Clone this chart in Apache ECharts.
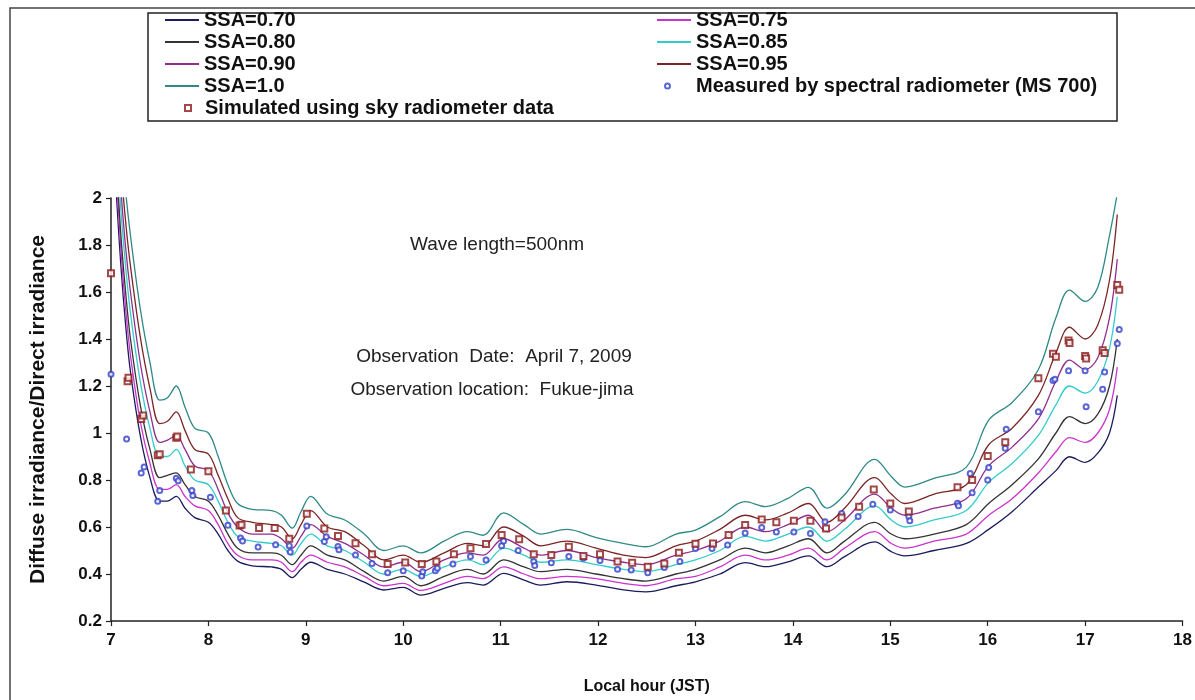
<!DOCTYPE html>
<html>
<head>
<meta charset="utf-8">
<script src="https://cdn.jsdelivr.net/npm/echarts@6/dist/echarts.min.js"></script>
<style>
html,body{margin:0;padding:0;background:#fff;}
#chart{width:1195px;height:700px;}
</style>
</head>
<body>
<div id="chart"></div>
<script>
// Local hour (JST) sample points of the model curves
const hours = [7.05,7.10,7.15,7.20,7.30,7.40,7.50,7.58,7.67,7.76,7.86,8.00,8.10,8.20,8.30,8.45,8.65,8.75,8.86,8.95,9.05,9.22,9.40,9.60,9.80,10.00,10.18,10.42,10.66,10.82,11.03,11.24,11.41,11.68,11.98,12.26,12.49,12.80,13.00,13.25,13.51,13.72,13.95,14.16,14.35,14.53,14.84,15.01,15.15,15.45,15.78,16.01,16.25,16.52,16.70,16.84,17.00,17.13,17.25,17.33];

const ssa070 = [2.05,1.72,1.46,1.26,0.99,0.81,0.71,0.71,0.73,0.68,0.64,0.62,0.57,0.50,0.455,0.435,0.43,0.42,0.385,0.42,0.45,0.42,0.40,0.365,0.332,0.343,0.31,0.339,0.363,0.353,0.403,0.374,0.353,0.367,0.353,0.332,0.324,0.35,0.367,0.40,0.448,0.431,0.452,0.477,0.431,0.474,0.537,0.495,0.477,0.50,0.53,0.59,0.665,0.77,0.84,0.899,0.875,0.914,1.00,1.16];
const ssa075 = [2.13,1.79,1.53,1.33,1.05,0.87,0.76,0.76,0.78,0.73,0.69,0.67,0.61,0.53,0.48,0.46,0.46,0.45,0.41,0.45,0.48,0.45,0.43,0.39,0.35,0.36,0.33,0.36,0.39,0.38,0.43,0.40,0.38,0.39,0.38,0.36,0.35,0.38,0.39,0.43,0.48,0.46,0.48,0.51,0.46,0.51,0.58,0.53,0.51,0.54,0.57,0.65,0.72,0.83,0.92,0.98,0.96,1.00,1.10,1.28];
const ssa080 = [2.21,1.85,1.60,1.40,1.12,0.93,0.81,0.82,0.83,0.78,0.73,0.71,0.65,0.57,0.51,0.49,0.49,0.48,0.44,0.48,0.52,0.48,0.46,0.41,0.37,0.39,0.35,0.39,0.42,0.40,0.46,0.43,0.41,0.42,0.40,0.38,0.37,0.40,0.42,0.46,0.51,0.49,0.52,0.55,0.49,0.54,0.62,0.57,0.55,0.57,0.61,0.70,0.78,0.89,1.00,1.07,1.04,1.08,1.20,1.40];
const ssa085 = [2.33,1.96,1.71,1.51,1.22,1.02,0.90,0.90,0.93,0.86,0.80,0.78,0.71,0.62,0.56,0.54,0.53,0.52,0.48,0.53,0.57,0.52,0.50,0.45,0.40,0.42,0.39,0.43,0.46,0.44,0.51,0.48,0.45,0.46,0.44,0.42,0.41,0.44,0.46,0.50,0.56,0.54,0.57,0.60,0.54,0.59,0.69,0.63,0.60,0.63,0.67,0.79,0.87,0.99,1.12,1.20,1.17,1.22,1.36,1.58];
const ssa090 = [2.43,2.05,1.79,1.60,1.30,1.09,0.96,0.97,0.99,0.93,0.86,0.84,0.76,0.66,0.60,0.57,0.57,0.55,0.51,0.56,0.61,0.56,0.53,0.48,0.43,0.45,0.41,0.46,0.49,0.48,0.55,0.51,0.48,0.50,0.47,0.45,0.44,0.48,0.50,0.54,0.60,0.58,0.61,0.65,0.58,0.63,0.74,0.68,0.65,0.68,0.72,0.86,0.94,1.06,1.22,1.31,1.27,1.32,1.49,1.74];
const ssa095 = [2.55,2.15,1.90,1.71,1.41,1.19,1.04,1.05,1.09,1.01,0.93,0.91,0.82,0.72,0.64,0.62,0.61,0.60,0.55,0.61,0.67,0.60,0.58,0.52,0.46,0.48,0.45,0.49,0.53,0.52,0.60,0.56,0.52,0.54,0.51,0.48,0.47,0.52,0.54,0.59,0.65,0.63,0.66,0.70,0.62,0.68,0.81,0.74,0.70,0.74,0.78,0.95,1.02,1.16,1.34,1.45,1.40,1.46,1.65,1.93];
const ssa100 = [2.70,2.28,2.03,1.84,1.53,1.30,1.14,1.15,1.20,1.11,1.02,1.00,0.90,0.78,0.70,0.675,0.67,0.65,0.595,0.665,0.73,0.655,0.63,0.57,0.50,0.52,0.49,0.54,0.58,0.565,0.66,0.61,0.57,0.59,0.555,0.53,0.516,0.57,0.587,0.644,0.708,0.687,0.722,0.769,0.68,0.737,0.888,0.815,0.77,0.807,0.855,1.055,1.13,1.27,1.49,1.608,1.56,1.62,1.84,2.02];

// Simulated using sky radiometer data (hour, value)
const simHours = [7.0,7.17,7.18,7.31,7.33,7.48,7.5,7.67,7.68,7.82,8.0,8.18,8.32,8.34,8.52,8.68,8.83,9.01,9.19,9.33,9.51,9.68,9.84,10.02,10.19,10.34,10.52,10.69,10.85,11.01,11.19,11.34,11.52,11.70,11.85,12.02,12.20,12.35,12.51,12.68,12.83,13.0,13.18,13.34,13.51,13.68,13.83,14.01,14.18,14.34,14.50,14.68,14.83,15.0,15.19,15.69,15.84,16.0,16.18,16.52,16.67,16.70,16.83,16.84,17.0,17.01,17.18,17.2,17.33,17.35];
const simValues = [1.68,1.22,1.235,1.06,1.075,0.905,0.91,0.98,0.985,0.845,0.837,0.67,0.606,0.61,0.596,0.596,0.55,0.656,0.594,0.562,0.531,0.484,0.443,0.449,0.443,0.453,0.484,0.51,0.528,0.566,0.548,0.484,0.481,0.516,0.477,0.484,0.453,0.448,0.431,0.445,0.49,0.529,0.53,0.566,0.608,0.632,0.62,0.627,0.627,0.594,0.64,0.686,0.76,0.70,0.666,0.769,0.80,0.902,0.961,1.233,1.337,1.325,1.394,1.383,1.328,1.317,1.352,1.34,1.63,1.61];

// Measured by spectral radiometer (MS 700) (hour, value)
const measHours = [7.0,7.16,7.31,7.34,7.48,7.5,7.67,7.69,7.83,7.84,8.02,8.2,8.33,8.35,8.51,8.69,8.83,8.84,9.01,9.19,9.21,9.33,9.34,9.51,9.68,9.84,10.0,10.19,10.2,10.33,10.35,10.51,10.69,10.85,11.01,11.03,11.18,11.34,11.35,11.52,11.70,11.85,12.02,12.20,12.34,12.51,12.68,12.84,13.0,13.17,13.33,13.51,13.68,13.83,14.01,14.18,14.33,14.5,14.67,14.82,15.0,15.19,15.2,15.69,15.7,15.82,15.84,16.0,16.01,16.18,16.19,16.52,16.67,16.69,16.83,17.0,17.01,17.18,17.2,17.33,17.35];
const measValues = [1.25,0.975,0.83,0.855,0.71,0.755,0.807,0.797,0.755,0.734,0.727,0.607,0.553,0.54,0.515,0.525,0.52,0.494,0.604,0.538,0.559,0.517,0.503,0.481,0.445,0.405,0.414,0.392,0.41,0.414,0.424,0.443,0.474,0.46,0.52,0.54,0.5,0.453,0.436,0.448,0.474,0.467,0.457,0.42,0.417,0.405,0.428,0.453,0.509,0.509,0.523,0.575,0.598,0.579,0.579,0.572,0.622,0.657,0.645,0.697,0.672,0.645,0.627,0.701,0.69,0.828,0.746,0.8,0.853,0.935,1.016,1.09,1.223,1.229,1.265,1.265,1.112,1.186,1.26,1.381,1.44];

const curveNames = ['SSA=0.70','SSA=0.75','SSA=0.80','SSA=0.85','SSA=0.90','SSA=0.95','SSA=1.0'];
const curveColors = ['#1c1c5c','#cc33cc','#333333','#33cccc','#8e2f8e','#7a2626','#2f8a86'];
const curveValues = [ssa070, ssa075, ssa080, ssa085, ssa090, ssa095, ssa100];
const simName = 'Simulated using sky radiometer data';
const measName = 'Measured by spectral radiometer (MS 700)';
const xTicks = {min:7, max:18, step:1};
const yTicks = {min:0.2, max:2, step:0.2};

const FONT = '"Liberation Sans", Arial, sans-serif';
const pair = (xs, ys) => xs.map((x, i) => [x, ys[i]]);

const series = curveNames.map((n, i) => ({
  name: n, type: 'line', data: pair(hours, curveValues[i]),
  symbol: 'none', smooth: 0.35, clip: true,
  lineStyle: {color: curveColors[i], width: 1.3},
  itemStyle: {color: curveColors[i]}, z: 2
}));
series.push({
  name: simName, type: 'scatter', data: pair(simHours, simValues),
  symbol: 'emptyRect', symbolSize: 6,
  itemStyle: {color: '#8b1a1a', borderWidth: 1.3}, z: 4
});
series.push({
  name: measName, type: 'scatter', data: pair(measHours, measValues),
  symbol: 'emptyCircle', symbolSize: 5,
  itemStyle: {color: '#3340c8', borderWidth: 1.2}, z: 3
});

const legText = {fontFamily: FONT, fontWeight: 'bold', fontSize: 20, color: '#111', lineHeight: 22};
const legBase = {orient: 'vertical', itemWidth: 34, itemHeight: 2, itemGap: 0, icon: 'rect', textStyle: legText, selectedMode: false, padding: 0};

const chart = echarts.init(document.getElementById('chart'), null, {renderer: 'canvas'});
chart.setOption({
  backgroundColor: '#ffffff',
  animation: false,
  grid: {left: 111, right: 6, top: 198, bottom: 79},
  legend: [
    Object.assign({}, legBase, {left: 165, top: 9, data: ['SSA=0.70','SSA=0.80','SSA=0.90','SSA=1.0']}),
    Object.assign({}, legBase, {left: 657, top: 9, data: ['SSA=0.75','SSA=0.85','SSA=0.95']}),
    Object.assign({}, legBase, {left: 184, top: 97, itemWidth: 6, itemHeight: 6, icon: 'emptyRect',
      textStyle: Object.assign({}, legText, {padding: [0, 0, 0, 9]}), data: [simName]}),
    Object.assign({}, legBase, {left: 664, top: 75, itemWidth: 5, itemHeight: 5, icon: 'emptyCircle',
      textStyle: Object.assign({}, legText, {padding: [0, 0, 0, 21]}), data: [measName]})
  ],
  xAxis: {
    type: 'value', min: xTicks.min, max: xTicks.max, interval: xTicks.step,
    name: 'Local hour (JST)', nameLocation: 'middle', nameGap: 58,
    nameTextStyle: {fontFamily: FONT, fontWeight: 'bold', fontSize: 16, color: '#111'},
    axisLine: {show: true, lineStyle: {color: '#222', width: 1.5}},
    axisTick: {show: true, length: 5, lineStyle: {color: '#222', width: 1.2}},
    axisLabel: {fontFamily: FONT, fontWeight: 'bold', fontSize: 17, color: '#111', margin: 11},
    splitLine: {show: false}
  },
  yAxis: {
    type: 'value', min: yTicks.min, max: yTicks.max, interval: yTicks.step,
    name: 'Diffuse irradiance/Direct irradiance', nameLocation: 'middle', nameGap: 62,
    nameTextStyle: {fontFamily: FONT, fontWeight: 'bold', fontSize: 21, color: '#111'},
    axisLine: {show: true, lineStyle: {color: '#222', width: 1.5}},
    axisTick: {show: true, length: 5, lineStyle: {color: '#222', width: 1.2}},
    axisLabel: {fontFamily: FONT, fontWeight: 'bold', fontSize: 17, color: '#111', margin: 9},
    splitLine: {show: false}
  },
  graphic: [
    {type: 'rect', shape: {x: 10, y: 8, width: 1200, height: 710}, style: {fill: 'none', stroke: '#444', lineWidth: 1.5}, silent: true, z: -1},
    {type: 'rect', shape: {x: 148, y: 13, width: 969, height: 108}, style: {fill: 'none', stroke: '#222', lineWidth: 1.5}, silent: true},
    {type: 'text', style: {text: 'Wave length=500nm', x: 497, y: 245, textAlign: 'center', textVerticalAlign: 'middle', font: '19px ' + FONT, fill: '#222'}},
    {type: 'text', style: {text: 'Observation  Date:  April 7, 2009', x: 494, y: 357, textAlign: 'center', textVerticalAlign: 'middle', font: '19px ' + FONT, fill: '#222'}},
    {type: 'text', style: {text: 'Observation location:  Fukue-jima', x: 492, y: 390, textAlign: 'center', textVerticalAlign: 'middle', font: '19px ' + FONT, fill: '#222'}}
  ],
  series: series
});
</script>
</body>
</html>
